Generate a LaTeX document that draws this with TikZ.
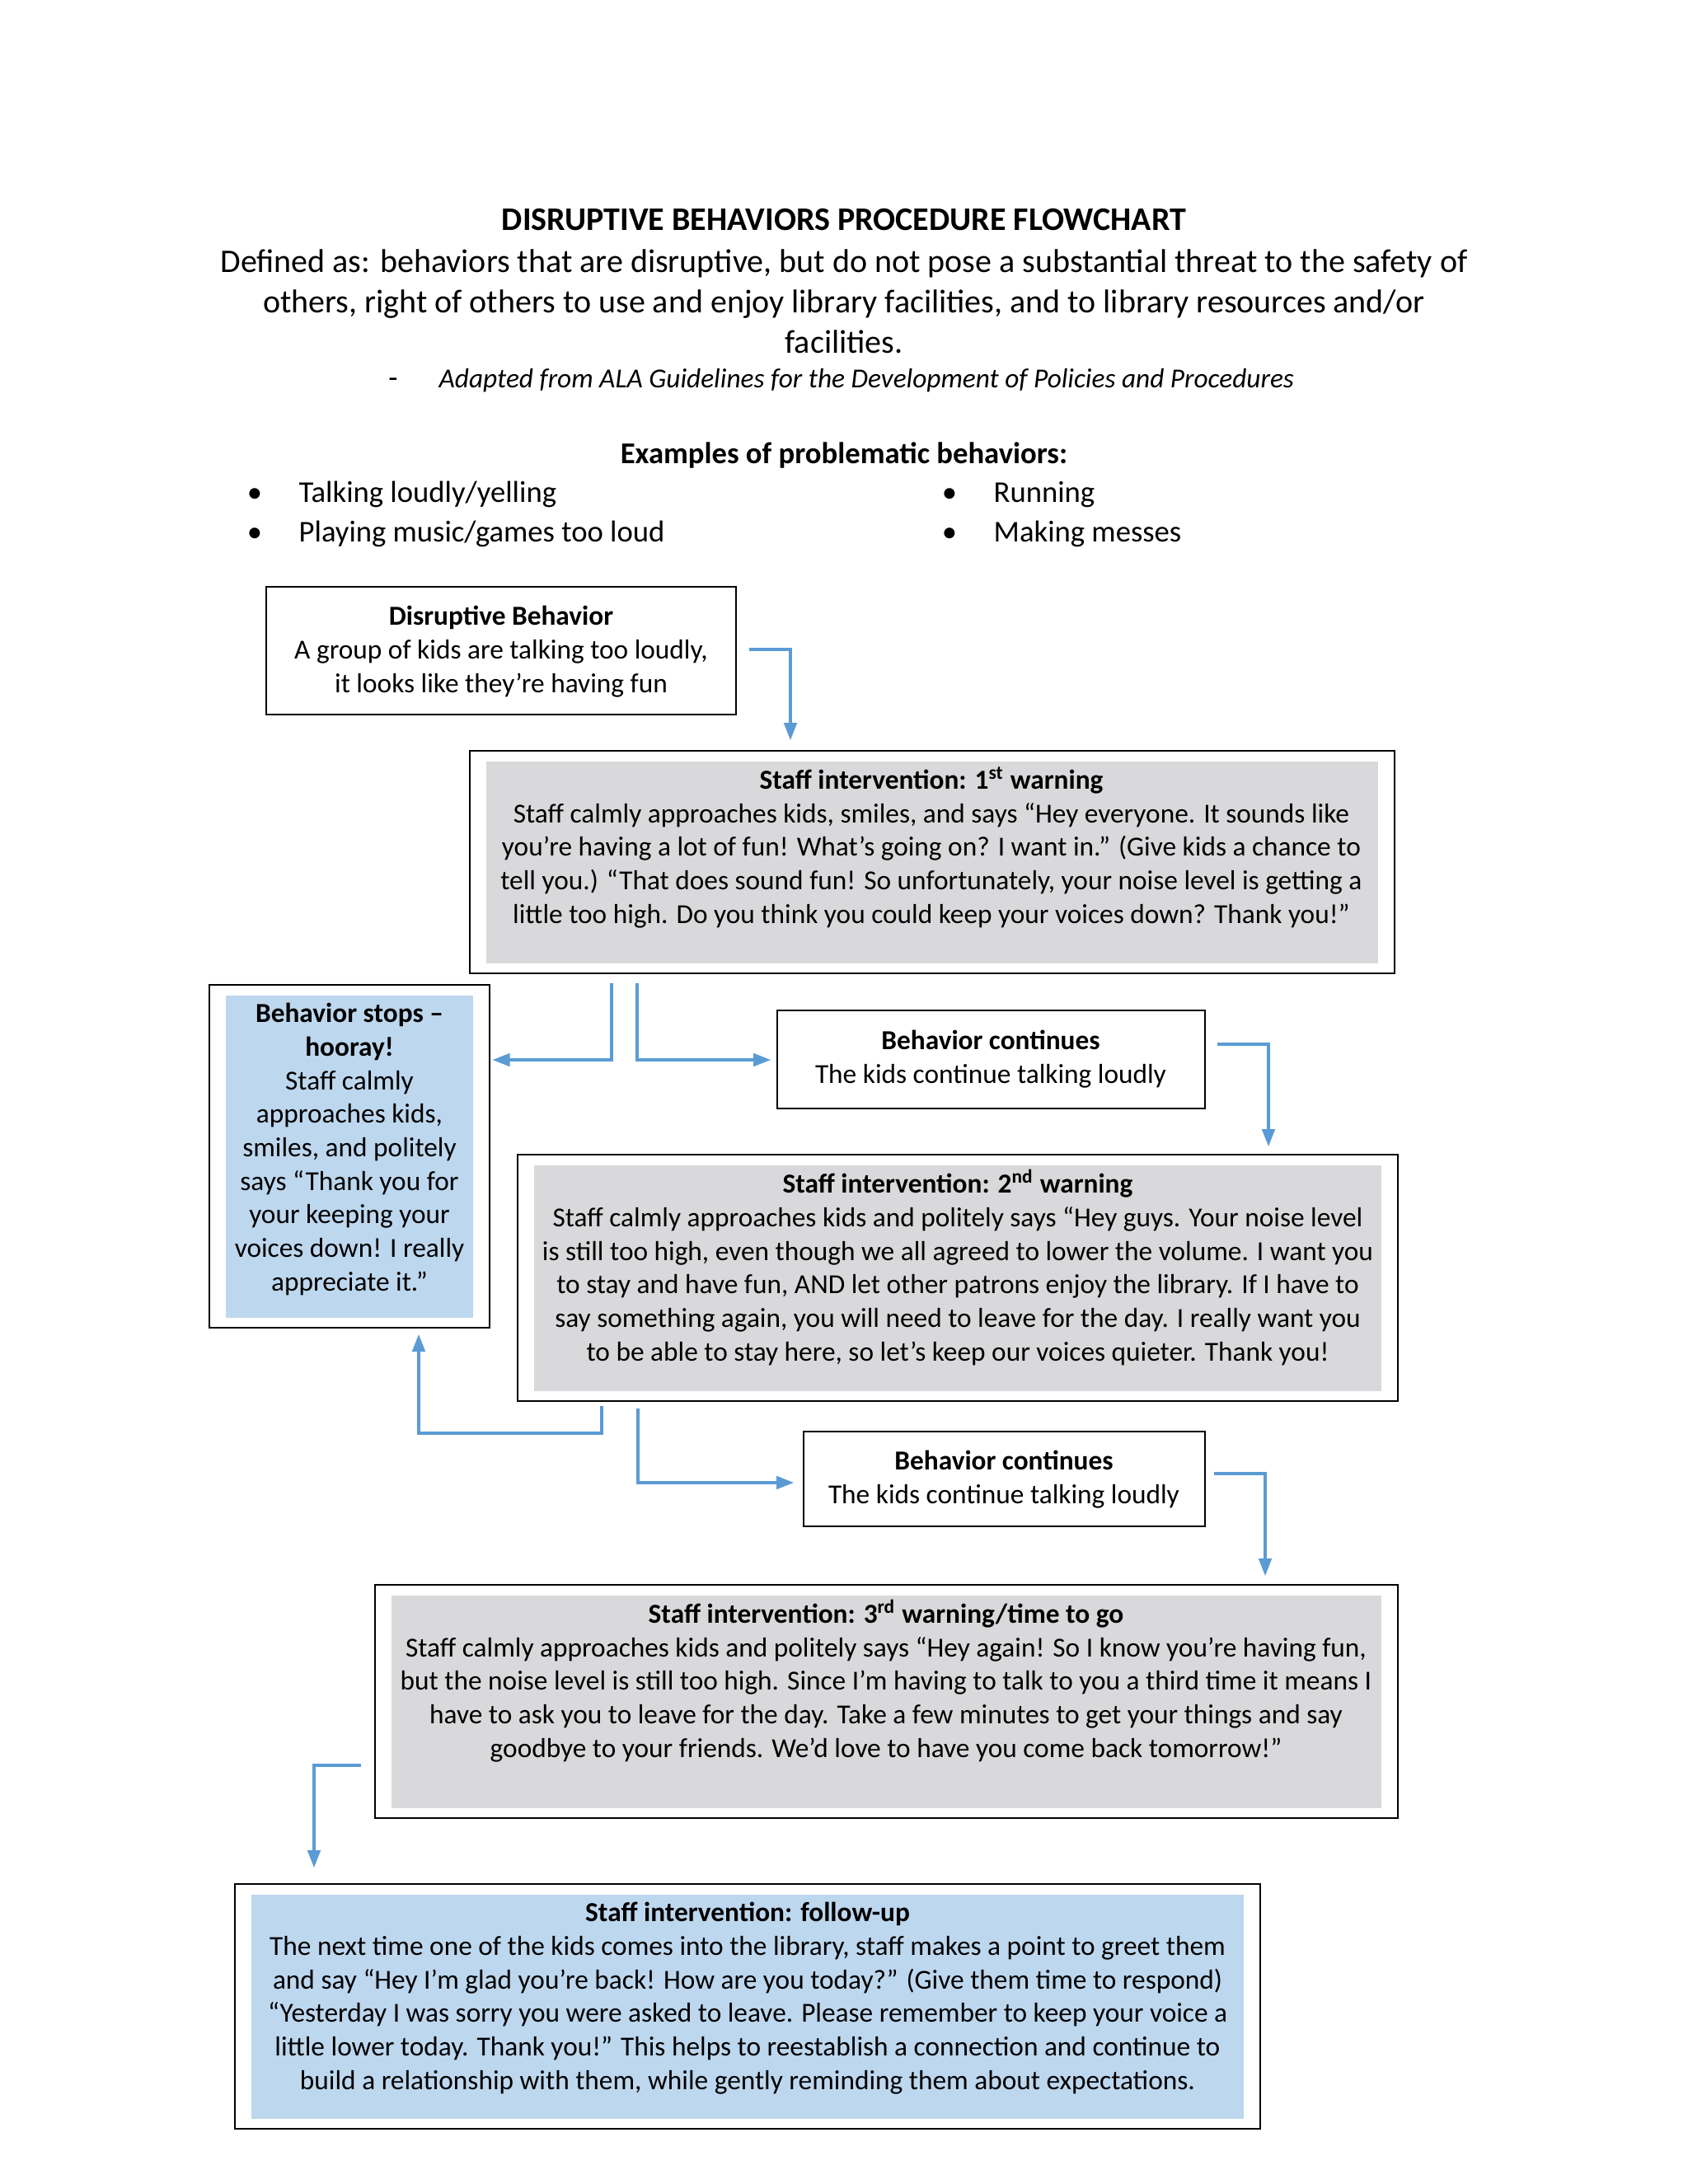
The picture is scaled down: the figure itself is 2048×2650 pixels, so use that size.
\documentclass[tikz,border=0pt]{standalone}
\usepackage{fontspec}
\setmainfont{Carlito}
\usetikzlibrary{arrows.meta}
\definecolor{flowblue}{HTML}{5B9BD5}
\definecolor{boxgray}{HTML}{D9D9DB}
\definecolor{boxblue}{HTML}{BDD7EE}
\tikzset{
  box/.style={draw=black, line width=0.8pt, inner sep=0pt},
  fillbox/.style={box, path picture={\fill[#1] ([xshift=6pt,yshift=-3.75pt]path picture bounding box.north west) rectangle ([xshift=-6pt,yshift=3.75pt]path picture bounding box.south east);}},
  txt/.style={inner sep=0pt, align=center, anchor=base, font=\fontsize{10}{12.2}\selectfont},
  head/.style={inner sep=0pt, align=center, anchor=base, font=\fontsize{12}{14.7}\selectfont},
  item/.style={inner sep=0pt, anchor=base west, font=\fontsize{11}{13.4}\selectfont},
  flow/.style={draw=flowblue, line width=1.4pt, -{Triangle[length=6.5pt,width=4.5pt]}},
}

\begin{document}
\begin{tikzpicture}[x=0.3pt, y=-0.3pt]
    \fill[white] (0,0) rectangle (2048,2650);
    \useasboundingbox (0,0) rectangle (2048,2650);

    \node[head, font=\bfseries\fontsize{12}{14.7}\selectfont] (title) at (1024,279) {DISRUPTIVE BEHAVIORS PROCEDURE FLOWCHART};
    \node[head] (defined) at (1024,428) {Defined as: behaviors that are disruptive, but do not pose a substantial threat to the safety of\\ others, right of others to use and enjoy library facilities, and to library resources and/or\\ facilities.};
    \node[item, anchor=base] (dash) at (477,470) {-};
    \node[item, font=\itshape\fontsize{10}{12.2}\selectfont] (source) at (532,470) {Adapted from ALA Guidelines for the Development of Policies and Procedures};

    \node[head, font=\bfseries\fontsize{11}{13.4}\selectfont] (examples) at (1024,562) {Examples of problematic behaviors:};
    \node[item, anchor=base] (b1) at (309,609) {\textbullet};
    \node[item] (i1) at (362,609) {Talking loudly/yelling};
    \node[item, anchor=base] (b2) at (309,657) {\textbullet};
    \node[item] (i2) at (362,657) {Playing music/games too loud};
    \node[item, anchor=base] (b3) at (1152,609) {\textbullet};
    \node[item] (i3) at (1205,609) {Running};
    \node[item, anchor=base] (b4) at (1152,657) {\textbullet};
    \node[item] (i4) at (1205,657) {Making messes};

    % boxes
    \node[box, minimum width=171pt, minimum height=46.5pt] (dis) at (608,789.5) {};
    \node[fillbox=boxgray, minimum width=336.6pt, minimum height=81pt] (warn1) at (1131,1046) {};
    \node[fillbox=boxblue, minimum width=102pt, minimum height=124.8pt] (stops) at (424,1403) {};
    \node[box, minimum width=155.7pt, minimum height=35.7pt] (cont1) at (1202.5,1285.5) {};
    \node[fillbox=boxgray, minimum width=320.4pt, minimum height=89.7pt] (warn2) at (1162,1550.5) {};
    \node[box, minimum width=146.1pt, minimum height=34.5pt] (cont2) at (1218.5,1794.5) {};
    \node[fillbox=boxgray, minimum width=372.3pt, minimum height=84.9pt] (warn3) at (1075.5,2064.5) {};
    \node[fillbox=boxblue, minimum width=373.2pt, minimum height=89.1pt] (follow) at (907,2434.5) {};

    \node[txt] (distxt) at (608,840) {\textbf{Disruptive Behavior}\\ A group of kids are talking too loudly,\\ it looks like they’re having fun};
    \node[txt] (warn1txt) at (1130,1120) {\textbf{Staff intervention: 1\textsuperscript{st} warning}\\
      Staff calmly approaches kids, smiles, and says “Hey everyone. It sounds like\\
      you’re having a lot of fun! What’s going on? I want in.” (Give kids a chance to\\
      tell you.) “That does sound fun! So unfortunately, your noise level is getting a\\
      little too high. Do you think you could keep your voices down? Thank you!”};
    \node[txt] (stopstxt) at (424,1566) {\textbf{Behavior stops –}\\ \textbf{hooray!}\\ Staff calmly\\ approaches kids,\\ smiles, and politely\\ says “Thank you for\\ your keeping your\\ voices down! I really\\ appreciate it.”};
    \node[txt] (cont1txt) at (1202,1314) {\textbf{Behavior continues}\\ The kids continue talking loudly};
    \node[txt] (warn2txt) at (1162,1651) {\textbf{Staff intervention: 2\textsuperscript{nd} warning}\\
      Staff calmly approaches kids and politely says “Hey guys. Your noise level\\
      is still too high, even though we all agreed to lower the volume. I want you\\
      to stay and have fun, AND let other patrons enjoy the library. If I have to\\
      say something again, you will need to leave for the day. I really want you\\
      to be able to stay here, so let’s keep our voices quieter. Thank you!};
    \node[txt] (cont2txt) at (1218,1824) {\textbf{Behavior continues}\\ The kids continue talking loudly};
    \node[txt] (warn3txt) at (1075,2132) {\textbf{Staff intervention: 3\textsuperscript{rd} warning/time to go}\\
      Staff calmly approaches kids and politely says “Hey again! So I know you’re having fun,\\
      but the noise level is still too high. Since I’m having to talk to you a third time it means I\\
      have to ask you to leave for the day. Take a few minutes to get your things and say\\
      goodbye to your friends. We’d love to have you come back tomorrow!”};
    \node[txt] (followtxt) at (907,2535) {\textbf{Staff intervention: follow-up}\\
      The next time one of the kids comes into the library, staff makes a point to greet them\\
      and say “Hey I’m glad you’re back! How are you today?” (Give them time to respond)\\
      “Yesterday I was sorry you were asked to leave. Please remember to keep your voice a\\
      little lower today. Thank you!” This helps to reestablish a connection and continue to\\
      build a relationship with them, while gently reminding them about expectations.};

    % arrows
    \draw[flow, shorten <=4.5pt, shorten >=3.3pt] (dis.east |- 0,788) -| (warn1.north -| 959,0);
    \draw[flow, shorten <=3.3pt, shorten >=0.5pt] (warn1.south -| 742,0) |- (stops.east |- 0,1286);
    \draw[flow, shorten <=3.3pt, shorten >=1.8pt] (warn1.south -| 773,0) |- (cont1.west |- 0,1286);
    \draw[flow, shorten <=4.2pt, shorten >=2.4pt] (cont1.east |- 0,1267) -| (warn2.north -| 1539,0);
    \draw[flow, shorten <=1.5pt, shorten >=1.8pt] (warn2.south -| 730,0) |- (508,1739) -- (stops.south -| 508,0);
    \draw[flow, shorten <=2.4pt, shorten >=3pt] (warn2.south -| 774,0) |- (cont2.west |- 0,1799);
    \draw[flow, shorten <=3pt, shorten >=2.7pt] (cont2.east |- 0,1788) -| (warn3.north -| 1535,0);
    \draw[flow, shorten <=4.8pt, shorten >=5.4pt] (warn3.west |- 0,2142) -| (follow.north -| 381,0);
\end{tikzpicture}
\end{document}
